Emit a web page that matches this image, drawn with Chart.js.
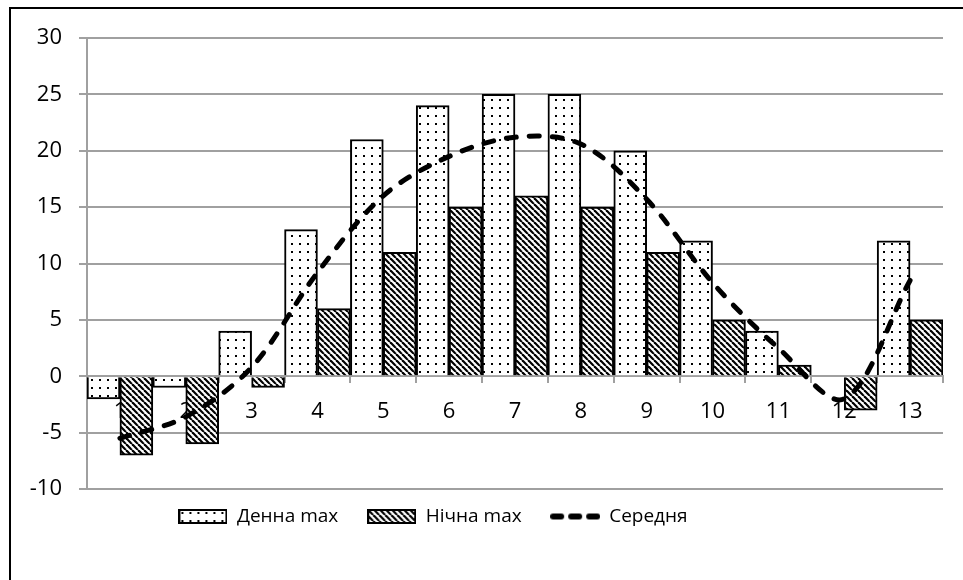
<!DOCTYPE html>
<html>
<head>
<meta charset="utf-8">
<script src="https://cdn.jsdelivr.net/npm/chart.js@4/dist/chart.umd.min.js"></script>
<style>
  html, body { margin: 0; padding: 0; background: #fff; }
  canvas { display: block; }
</style>
</head>
<body>
<canvas id="tempChart" width="963" height="580"></canvas>
<script>
// values
const categories = ["1", "2", "3", "4", "5", "6", "7", "8", "9", "10", "11", "12", "13"];
const dayMax = [-2, -1, 4, 13, 21, 24, 25, 25, 20, 12, 4, 0, 12];
const nightMax = [-7, -6, -1, 6, 11, 15, 16, 15, 11, 5, 1, -3, 5];
const average = [-5.5, -3.6, 0.8, 9.2, 16, 19.5, 21.2, 20.6, 15.7, 8.3, 2.5, -2, 8.5];
const seriesNames = ["Денна max", "Нічна max", "Середня"];
const yMin = -10;
const yMax = 30;
const yStep = 5;

const gridGrey = "#a0a0a0";

// fill patterns
function dotPattern() {
  const c = document.createElement("canvas");
  c.width = 8;
  c.height = 8;
  const g = c.getContext("2d");
  g.fillStyle = "#fff";
  g.fillRect(0, 0, 8, 8);
  g.fillStyle = "#000";
  g.fillRect(3, 3, 2, 2);
  return g.createPattern(c, "repeat");
}
function hatchPattern() {
  const s = 6;
  const c = document.createElement("canvas");
  c.width = s;
  c.height = s;
  const g = c.getContext("2d");
  g.fillStyle = "#fff";
  g.fillRect(0, 0, s, s);
  g.strokeStyle = "#000";
  g.lineWidth = 2.2;
  for (const k of [-s, 0, s]) {
    g.beginPath();
    g.moveTo(k, 0);
    g.lineTo(k + s, s);
    g.stroke();
  }
  return g.createPattern(c, "repeat");
}
const dots = dotPattern();
const hatch = hatchPattern();

// legend icons
function boxIcon(fill) {
  const c = document.createElement("canvas");
  c.width = 49;
  c.height = 15;
  const g = c.getContext("2d");
  g.fillStyle = fill;
  g.fillRect(0, 0, 49, 15);
  g.strokeStyle = "#000";
  g.lineWidth = 2;
  g.strokeRect(1, 1, 47, 13);
  return c;
}
function dashIcon() {
  const c = document.createElement("canvas");
  c.width = 50;
  c.height = 8;
  const g = c.getContext("2d");
  g.strokeStyle = "#000";
  g.lineWidth = 6;
  g.lineCap = "round";
  g.setLineDash([8, 10]);
  g.beginPath();
  g.moveTo(3, 4);
  g.lineTo(47, 4);
  g.stroke();
  return c;
}
const legendIcons = [boxIcon(dots), boxIcon(hatch), dashIcon()];

// frame of the chart (left and top edges visible)
const framePlugin = {
  id: "frame",
  beforeDraw(chart) {
    const ctx = chart.ctx;
    ctx.save();
    ctx.fillStyle = "#fff";
    ctx.fillRect(0, 0, chart.width, chart.height);
    ctx.strokeStyle = "#000";
    ctx.lineWidth = 2;
    ctx.beginPath();
    ctx.moveTo(10, chart.height);
    ctx.lineTo(10, 8);
    ctx.lineTo(chart.width, 8);
    ctx.stroke();
    ctx.restore();
  },
};

// legend sits a little higher and left of the default spot
const legendCenterX = 433;
const legendTopY = 478;
const legendPlace = {
  id: "legendPlace",
  afterLayout(chart) {
    const lg = chart.legend;
    if (!lg) return;
    const dx = legendCenterX - (lg.left + lg.right) / 2;
    const dy = legendTopY - lg.top;
    lg.left += dx;
    lg.right += dx;
    lg.top += dy;
    lg.bottom += dy;
  },
};

Chart.defaults.font.family = "'Open Sans'";
Chart.defaults.color = "#000";

new Chart("tempChart", {
  type: "bar",
  data: {
    labels: categories,
    datasets: [
      {
        label: seriesNames[0],
        data: dayMax,
        backgroundColor: dots,
        borderColor: "#000",
        borderWidth: 2,
        categoryPercentage: 1,
        barPercentage: 1,
        order: 1,
      },
      {
        label: seriesNames[1],
        data: nightMax,
        backgroundColor: hatch,
        borderColor: "#000",
        borderWidth: 2,
        categoryPercentage: 1,
        barPercentage: 1,
        order: 1,
      },
      {
        type: "line",
        label: seriesNames[2],
        data: average,
        borderColor: "#000",
        backgroundColor: "#000",
        borderWidth: 5,
        borderDash: [10, 13],
        borderCapStyle: "round",
        tension: 0.33,
        pointRadius: 0,
        fill: false,
        order: 0,
      },
    ],
  },
  options: {
    responsive: false,
    animation: false,
    layout: {
      padding: { left: 20, right: 20, top: 38, bottom: 33 },
    },
    scales: {
      x: {
        position: { y: 0 },
        grid: {
          drawOnChartArea: false,
          drawTicks: true,
          tickLength: 6,
          color: gridGrey,
          lineWidth: 2,
        },
        border: { color: gridGrey, width: 2 },
        ticks: {
          font: { size: 22 },
          padding: 16,
          maxRotation: 0,
        },
      },
      y: {
        min: yMin,
        max: yMax,
        afterFit: (s) => {
          s.width = 67;
        },
        grid: {
          color: gridGrey,
          lineWidth: 2,
          tickLength: 8,
        },
        border: { color: gridGrey, width: 2 },
        ticks: {
          stepSize: yStep,
          font: { size: 22 },
          padding: 17,
        },
      },
    },
    plugins: {
      tooltip: { enabled: false },
      legend: {
        position: "bottom",
        labels: {
          usePointStyle: true,
          pointStyleWidth: 49,
          padding: 29,
          font: { size: 19 },
          sort: (a, b) => a.datasetIndex - b.datasetIndex,
          generateLabels: (chart) =>
            Chart.defaults.plugins.legend.labels
              .generateLabels(chart)
              .map((it) => ({ ...it, pointStyle: legendIcons[it.datasetIndex] })),
        },
      },
    },
  },
  plugins: [framePlugin, legendPlace],
});
</script>
</body>
</html>
